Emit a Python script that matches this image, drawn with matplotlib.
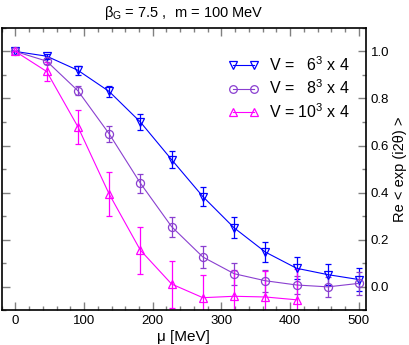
import numpy as np
import matplotlib
matplotlib.use("Agg")
import matplotlib.pyplot as plt
from matplotlib.ticker import MultipleLocator
from matplotlib.lines import Line2D

plt.rcParams['font.family'] = ['Liberation Sans', 'DejaVu Sans']
plt.rcParams['mathtext.fontset'] = 'custom'
plt.rcParams['mathtext.rm'] = 'Liberation Sans'
plt.rcParams['mathtext.it'] = 'Liberation Sans:italic'

mu6 = [0, 45.5, 91, 136.5, 182, 227.5, 273, 318.5, 364, 409.5, 455, 500.5]
re6 = [1.0, 0.98, 0.92, 0.83, 0.70, 0.54, 0.383, 0.25, 0.147, 0.078, 0.051, 0.03]
err6 = [0.0, 0.01, 0.018, 0.025, 0.033, 0.037, 0.041, 0.044, 0.044, 0.047, 0.044, 0.05]

mu8 = [0, 45.5, 91, 136.5, 182, 227.5, 273, 318.5, 364, 409.5, 455, 500.5]
re8 = [1.0, 0.959, 0.833, 0.65, 0.44, 0.255, 0.126, 0.055, 0.025, 0.007, -0.001, 0.014]
err8 = [0.0, 0.012, 0.02, 0.033, 0.041, 0.042, 0.045, 0.046, 0.046, 0.04, 0.042, 0.05]

mu10 = [0, 45.5, 91, 136.5, 182, 227.5, 273, 318.5, 364, 409.5]
re10 = [1.0, 0.915, 0.68, 0.394, 0.155, 0.011, -0.047, -0.041, -0.044, -0.056]
err10 = [0.0, 0.039, 0.073, 0.092, 0.10, 0.10, 0.098, 0.11, 0.11, 0.13]

labels = ["V =   6$^3$ x 4", "V =   8$^3$ x 4", "V = 10$^3$ x 4"]
colors = ["#0000ff", "#8a3fd0", "#ff00ff"]
markers = ["v", "o", "^"]

fig = plt.figure(figsize=(4.09, 3.45), dpi=100)
ax = fig.add_axes([0.004, 0.101, 0.890, 0.818])

handles = []
for mu, re, err, lab, c, m in zip([mu6, mu8, mu10], [re6, re8, re10],
                                  [err6, err8, err10], labels, colors, markers):
    ax.errorbar(mu, re, yerr=err, color=c, marker=m, markersize=5.8,
                markerfacecolor='none', markeredgecolor=c, markeredgewidth=0.9,
                linewidth=0.8, elinewidth=0.9, capsize=2.3, capthick=0.9)
    handles.append(Line2D([], [], color=c, marker=m, markersize=5.5,
                          markerfacecolor='none', markeredgecolor=c,
                          markeredgewidth=0.9, linewidth=0.8, label=lab))

ax.set_xlim(-20, 510)
ax.set_ylim(-0.1, 1.1)
ax.xaxis.set_major_locator(MultipleLocator(100))
ax.xaxis.set_minor_locator(MultipleLocator(20))
ax.yaxis.set_major_locator(MultipleLocator(0.2))
ax.yaxis.set_minor_locator(MultipleLocator(0.1))
ax.yaxis.set_major_formatter(matplotlib.ticker.FormatStrFormatter('%.1f'))
ax.tick_params(which='both', direction='in', top=True, right=True, left=True, bottom=True,
               labelleft=False, labelright=True, labelsize=9.5, labelcolor='#000000')
ax.tick_params(which='major', length=6, width=1, color='#808080')
ax.tick_params(which='minor', length=3, width=1, color='#808080')
for s in ax.spines.values():
    s.set_linewidth(1.2)

ax.set_xlabel("μ [MeV]", fontsize=11, labelpad=2)
ax.yaxis.set_label_position('right')
ax.set_ylabel("Re < exp (i2θ) >", fontsize=10.5, labelpad=3)
ax.set_title("β$_{\\rm G}$ = 7.5 ,  m = 100 MeV", fontsize=10.5, pad=8)

leg = ax.legend(handles=handles, loc='upper right', bbox_to_anchor=(0.995, 0.955),
                frameon=False, fontsize=11.5, numpoints=2, handlelength=1.9,
                handletextpad=0.6, labelspacing=0.3)

fig.savefig("out.png", dpi=100)
